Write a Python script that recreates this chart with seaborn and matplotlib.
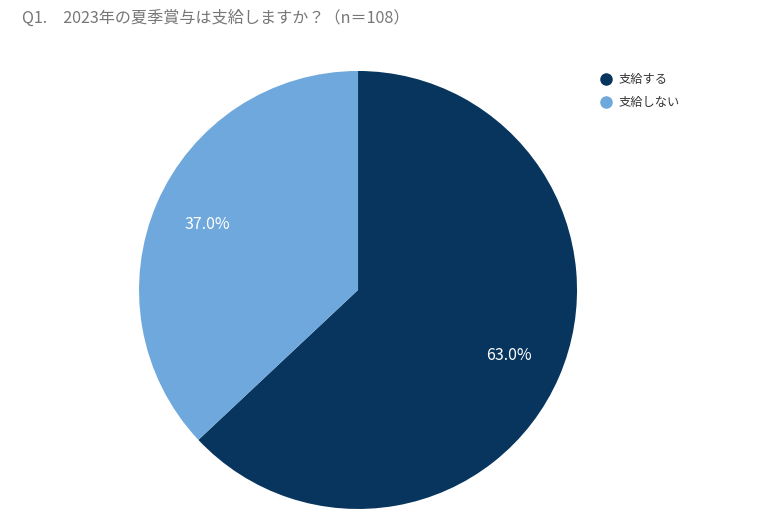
import matplotlib
matplotlib.use("Agg")
import matplotlib.pyplot as plt
from matplotlib.lines import Line2D
import seaborn as sns

# data
labels = ["支給する", "支給しない"]
shares = [63.0, 37.0]
colors = ["#08355e", "#6fa8dc"]
title = "Q1.　2023年の夏季賞与は支給しますか？（n＝108）"

sns.set_theme(style="white")
plt.rcParams["font.family"] = ["Noto Sans CJK JP", "DejaVu Sans"]

fig = plt.figure(figsize=(7.66, 5.23), dpi=100)
ax = fig.add_axes([0.1815, 0.0268, 0.5718, 0.8375])

wedges, texts, autotexts = ax.pie(
    shares, colors=colors, startangle=90, counterclock=False,
    autopct="%.1f%%", pctdistance=0.75,
    textprops={"color": "white", "fontsize": 11.5},
    wedgeprops={"linewidth": 0},
)
ax.set_aspect("equal")
ax.set_xlim(-1, 1)
ax.set_ylim(-1, 1)

fig.text(22 / 766, 1 - 18 / 523, title, fontsize=11.6, color="#777777",
         va="center", ha="left")

handles = [Line2D([0], [0], marker="o", linestyle="", markersize=8,
                  markerfacecolor=c, markeredgecolor=c) for c in colors]
fig.legend(handles, labels, loc="upper left",
           bbox_to_anchor=(593 / 766, 1 - 67 / 523), frameon=False,
           fontsize=8.8, labelcolor="#333333", handletextpad=0.35,
           labelspacing=0.8, handlelength=1.2, borderpad=0)

fig.savefig("out.png", dpi=100)
